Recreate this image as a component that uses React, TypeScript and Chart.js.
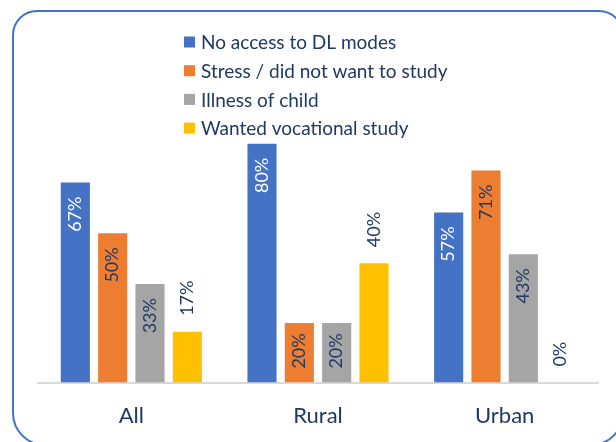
import React, { useEffect, useRef } from "react";
import { Chart, registerables } from "chart.js";

Chart.register(...registerables);

const categories = ["All", "Rural", "Urban"];
const seriesNames = [
  "No access to DL modes",
  "Stress / did not want to study",
  "Illness of child",
  "Wanted vocational study",
];
const noAccess = [67, 80, 57];
const stress = [50, 20, 71];
const illness = [33, 20, 43];
const vocational = [17, 40, 0];
const seriesColors = ["#4472C4", "#ED7D31", "#A5A5A5", "#FFC000"];
const labelColors = ["#FFFFFF", "#203864", "#203864", "#203864"];
const labelOutside = [false, false, false, true];

const FONT = "Lato, 'Open Sans', sans-serif";
const NAVY = "#203864";

const framePlugin = {
  id: "frame",
  afterDraw(chart: any) {
    const ctx = chart.ctx;
    ctx.save();
    ctx.strokeStyle = "#4472C4";
    ctx.lineWidth = 2;
    ctx.beginPath();
    ctx.roundRect(13, 11, 610, 434, [24, 24, 32, 32]);
    ctx.stroke();
    ctx.restore();
  },
};

const legendPlugin = {
  id: "customLegend",
  afterDraw(chart: any) {
    const ctx = chart.ctx;
    ctx.save();
    ctx.font = `19px ${FONT}`;
    ctx.textBaseline = "middle";
    ctx.textAlign = "left";
    chart.data.datasets.forEach((ds: any, i: number) => {
      const cy = 42 + i * 28.7;
      ctx.fillStyle = ds.backgroundColor;
      ctx.fillRect(184, cy - 5.5, 11, 11);
      ctx.fillStyle = NAVY;
      ctx.fillText(ds.label, 201, cy + 1);
    });
    ctx.restore();
  },
};

const labelPlugin = {
  id: "rotLabels",
  afterDatasetsDraw(chart: any) {
    const ctx = chart.ctx;
    ctx.save();
    ctx.font = `18px ${FONT}`;
    ctx.textBaseline = "middle";
    chart.data.datasets.forEach((ds: any, di: number) => {
      const meta = chart.getDatasetMeta(di);
      meta.data.forEach((bar: any, i: number) => {
        const text = `${ds.data[i]}%`;
        const w = ctx.measureText(text).width;
        const top = bar.y;
        const h = bar.base - bar.y;
        ctx.save();
        ctx.fillStyle = labelColors[di];
        if (labelOutside[di]) {
          ctx.translate(bar.x, top - 16);
          ctx.rotate(-Math.PI / 2);
          ctx.textAlign = "left";
        } else {
          const off = Math.min(14, h - w - 14);
          ctx.translate(bar.x, top + off);
          ctx.rotate(-Math.PI / 2);
          ctx.textAlign = "right";
        }
        ctx.fillText(text, 0, 0);
        ctx.restore();
      });
    });
    ctx.restore();
  },
};

export default function App() {
  const ref = useRef<HTMLCanvasElement | null>(null);
  useEffect(() => {
    const all = [noAccess, stress, illness, vocational];
    const chart = new Chart(ref.current as HTMLCanvasElement, {
      type: "bar",
      data: {
        labels: categories,
        datasets: all.map((d, i) => ({
          label: seriesNames[i],
          data: d,
          backgroundColor: seriesColors[i],
          borderWidth: 0,
          barPercentage: 0.78,
          categoryPercentage: 0.8,
        })),
      },
      options: {
        animation: false,
        responsive: false,
        maintainAspectRatio: false,
        layout: { padding: { left: 38, right: 18, top: 84, bottom: -7 } },
        plugins: { legend: { display: false }, tooltip: { enabled: false } },
        scales: {
          x: {
            grid: { display: false, drawTicks: false },
            border: { display: true, color: "#D9D9D9", width: 2 },
            ticks: { color: NAVY, font: { family: FONT, size: 22 }, padding: 20 },
          },
          y: { display: false, min: 0, max: 100 },
        },
      },
      plugins: [framePlugin, legendPlugin, labelPlugin],
    });
    return () => chart.destroy();
  }, []);
  return (
    <div style={{ position: "fixed", left: 0, top: 0, width: 616, height: 442, overflow: "hidden", background: "#fff" }}>
      <canvas ref={ref} width={616} height={442} style={{ position: "absolute", left: 0, top: 0 }} />
    </div>
  );
}
